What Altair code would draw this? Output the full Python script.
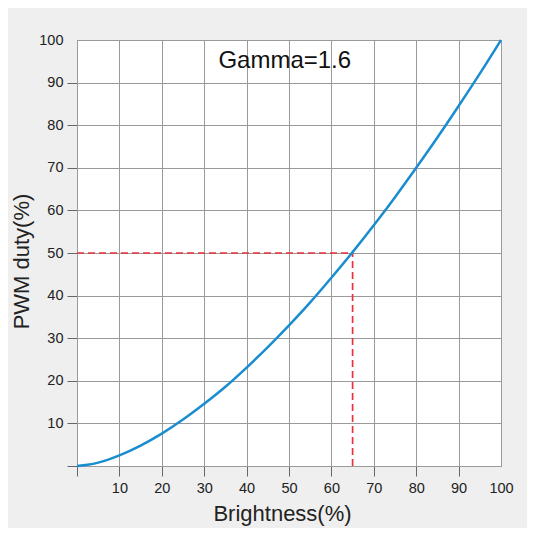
import altair as alt
import pandas as pd

# Curve values
brightness = [0, 2.5, 5, 10, 15, 20, 25, 30, 35, 40, 45, 50, 55, 60, 65, 70, 75, 80, 85, 90, 95, 100]
duty = [0, 0.3, 0.8, 2.5, 4.8, 7.6, 10.9, 14.6, 18.6, 23.1, 27.9, 33.0, 38.4, 44.2, 50.2, 56.5, 63.1, 70.0, 77.1, 84.5, 92.1, 100]

# Dashed marker lines (brightness 65% -> duty 50%)
h_x = [0, 65]
h_y = [50, 50]
v_x = [65, 65]
v_y = [0, 50]

title_text = ["Gamma=1.6"]
title_x = [49]
title_y = [95]

ticks = [0, 10, 20, 30, 40, 50, 60, 70, 80, 90, 100]

FONT = "Liberation Sans"
GRID = "#9a9a9a"

curve = pd.DataFrame({"b": brightness, "d": duty})
hline = pd.DataFrame({"b": h_x, "d": h_y})
vline = pd.DataFrame({"b": v_x, "d": v_y})
tdf = pd.DataFrame({"t": title_text, "b": title_x, "d": title_y})

hide_last_tick = {"condition": {"test": "datum.value >= 100", "value": 0}, "value": 1}

xscale = alt.Scale(domain=[0, 100], nice=False, zero=False)
yscale = alt.Scale(domain=[0, 100], nice=False, zero=False)

common = dict(
    values=ticks, grid=True, gridColor=GRID, gridWidth=1,
    labelExpr="datum.value == 0 ? '' : datum.label",
    tickSize=10, tickColor="#666666", tickOpacity=hide_last_tick,
    domainColor=GRID, labelFont=FONT, labelFontSize=14.5, labelFlush=False,
    labelOverlap=False, labelColor="#222222", titleFont=FONT, titleFontSize=22,
    titleFontWeight="normal", titleColor="#222222",
)
xaxis = alt.Axis(title="Brightness(%)", labelPadding=5, titlePadding=9, titleX=205, **common)
yaxis = alt.Axis(title="PWM duty(%)", labelPadding=4, titlePadding=5, titleY=221, **common)

base_x = alt.X("b:Q", scale=xscale, axis=xaxis)
base_y = alt.Y("d:Q", scale=yscale, axis=yaxis)

line = alt.Chart(curve).mark_line(color="#1a8dd0", strokeWidth=2.5, interpolate="monotone").encode(
    x=base_x, y=base_y
)
dash_h = alt.Chart(hline).mark_line(color="#e8333c", strokeWidth=1.7, strokeDash=[7, 4]).encode(
    x="b:Q", y="d:Q"
)
dash_v = alt.Chart(vline).mark_line(color="#e8333c", strokeWidth=1.7, strokeDash=[7, 4]).encode(
    x="b:Q", y="d:Q"
)
label = alt.Chart(tdf).mark_text(font=FONT, fontSize=24, color="#111111", align="center", baseline="middle").encode(
    x="b:Q", y="d:Q", text="t:N"
)

chart = alt.layer(dash_h, dash_v, line, label).properties(
    width=424, height=426,
    autosize=alt.AutoSizeParams(type="none"),
    padding={"left": 69, "top": 32, "right": 26, "bottom": 62},
    background="#efefef",
).configure_view(fill="white", stroke=GRID, strokeWidth=1)

chart.save("out.html", embed_options={"renderer": "svg", "actions": False})
